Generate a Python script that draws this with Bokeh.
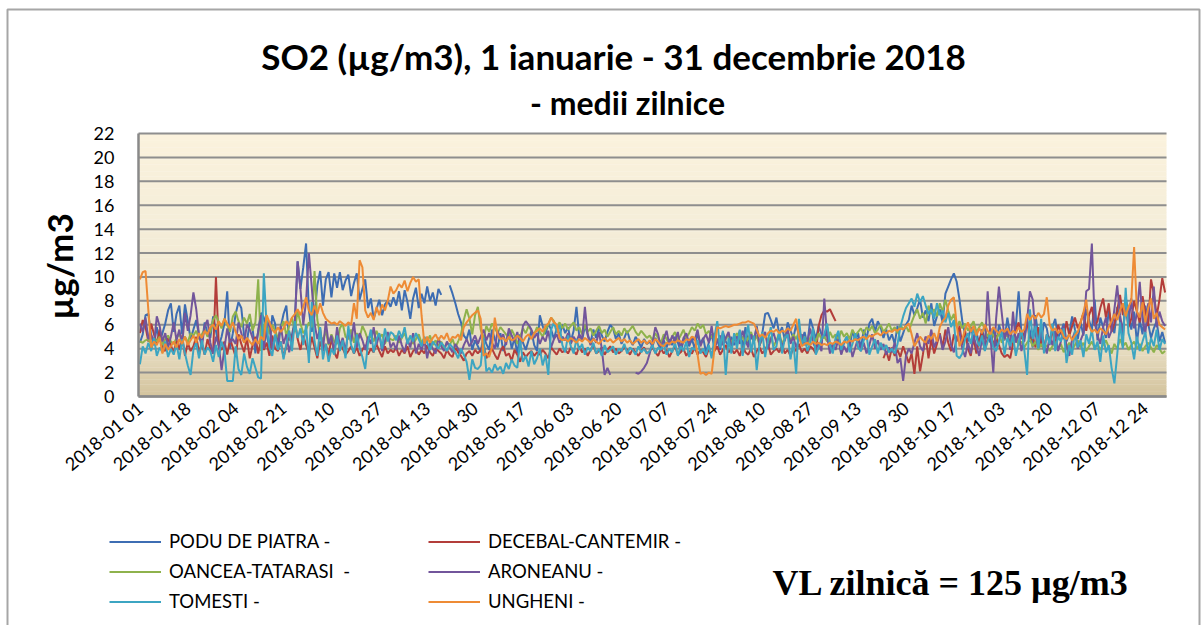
import math
from bokeh.plotting import figure
from bokeh.models import Range1d, FixedTicker, Label, Legend, LegendItem
from bokeh.embed import file_html
from bokeh.resources import INLINE

FONT = "Lato"

TITLE_1 = "SO2 (µg/m3), 1 ianuarie - 31 decembrie 2018"
TITLE_2 = "- medii zilnice"
Y_LABEL = "µg/m3"
VL_TEXT = "VL zilnică = 125 µg/m3"

TICK_STEP = 17
TICK_LABELS = ["2018-01 01", "2018-01 18", "2018-02 04", "2018-02 21", "2018-03 10",
               "2018-03 27", "2018-04 13", "2018-04 30", "2018-05 17", "2018-06 03",
               "2018-06 20", "2018-07 07", "2018-07 24", "2018-08 10", "2018-08 27",
               "2018-09 13", "2018-09 30", "2018-10 17", "2018-11 03", "2018-11 20",
               "2018-12 07", "2018-12 24"]
Y_TICKS = [0, 2, 4, 6, 8, 10, 12, 14, 16, 18, 20, 22]

NAMES = ["PODU DE PIATRA -", "DECEBAL-CANTEMIR -", "OANCEA-TATARASI  -",
         "ARONEANU -", "TOMESTI -", "UNGHENI -"]
COLORS = ["#3D6DB3", "#B33D3A", "#8EB24C", "#72559B", "#3CA5C2", "#EE8B35"]
N = None

PODU_DE_PIATRA = (
    [4.5, 5.2, 6.8, 6.9, 5.1, 4.3, 5.8, 4.6, 5.3, 6.1, 7.2, 7.8, 5.4, 6.9, 7.6, 5.2, 7.7, 6.3, 4.8, 5.6, 6.4, 5.1, 4.4, 6.2, 5.3, 4.9, 6.7, 5.5, 4.2, 5.0, 6.1]
    + [8.8, 4.0, 5.3, 6.9, 7.9, 7.4, 5.1, 4.6, 6.2, 5.7, 3.6, 5.5, 7.0, 6.6, 5.2, 4.0, 6.8, 6.1, 3.9, 5.8, 6.9, 7.6, 4.7, 5.2, 6.3, 11.3, 9.0, 10.8]
    + [12.8, 7.2, 5.4, 6.8, 9.3, 10.5, 7.6, 9.8, 10.4, 8.3, 10.3, 9.1, 10.4, 8.9, 9.7, 10.2, 8.4, 9.5, 10.3, 8.1, 9.0, 9.8, 7.4, 8.2, 6.5, 7.3, 8.1, 6.8, 7.7, 8.0, 7.5]
    + [8.3, 7.6, 8.8, 7.2, 8.9, 7.9, 6.5, 8.2, 9.1, 7.4, 8.6, 7.8, 9.2, 8.0, 8.7, 7.6, 9.0, 8.5, N, N, 9.3, 8.6, 7.8, 6.9, 6.2, 5.1, 4.8, 5.6, 3.9, 4.7]
    + [4.2, 3.7, 5.1, 4.4, 3.9, 5.6, 4.8, 4.1, 5.3, 3.8, 4.6, 5.4, 4.0, 4.9, 3.6, 5.2, 4.5, 3.9, 4.7, 5.5, 4.3, 3.8, 6.8, 5.9, 5.2, 6.1, 5.6, 4.8, 5.7, 5.1, 6.0]
    + [5.3, 5.8, 4.6, 5.5, 7.5, 5.0, 4.7, 5.9, 5.2, 4.5, 5.6, 4.9, 5.8, 5.1, 4.6, 5.4, 6.0, 5.7, 4.8, 5.3, 4.4, 4.9, 5.5, 4.7, 4.3, 5.0, 4.6, 4.1, 4.8, 4.4]
    + [4.6, 4.2, 4.9, 4.4, 3.9, 4.7, 4.1, 4.8, 4.3, 5.0, 4.5, 3.8, 4.6, 5.1, 4.2, 4.8, 4.0, 5.3, 4.4, 4.9, 3.7, 4.5, 5.2, 4.1, 4.8, 3.9, 5.4, 4.6, 4.2, 5.0, 4.3]
    + [4.7, 5.5, 4.1, 5.8, 4.4, 5.0, 4.6, 5.9, 4.2, 5.3, 6.9, 7.0, 6.4, 5.7, 6.6, 5.2, 5.8, 4.7, 6.2, 5.5, 4.9, 6.0, 5.1, 4.6, 5.4, 4.3, 6.5, 5.7, 4.8, 5.9, 5.2]
    + [4.9, 5.8, 4.4, 3.8, 4.6, 5.2, 3.6, 4.5, 5.0, 4.2, 5.5, 4.7, 5.3, 4.0, 5.6, 4.8, 6.1, 6.5, 5.4, 6.3, 5.8, 4.9, 5.6, 4.7, 5.2, 4.4, 5.9, 4.6, 5.3, 6.0]
    + [6.4, 7.6, 6.8, 7.4, 8.1, 6.6, 7.2, 6.3, 7.8, 5.9, 6.7, 7.3, 6.2, 8.6, 9.2, 9.8, 10.3, 9.6, 8.1, 6.3, 5.2, 4.6, 5.8, 4.9, 5.4, 4.4, 5.6, 4.8, 5.1, 4.5, 5.7]
    + [4.2, 6.0, 5.3, 4.7, 6.6, 5.1, 4.4, 5.9, 8.8, 5.2, 4.6, 6.3, 5.5, 4.1, 6.8, 5.0, 4.5, 6.2, 5.7, 4.3, 5.8, 6.5, 4.9, 5.4, 6.1, 4.6, 5.3, 6.7, 5.6, 4.8]
    + [6.2, 5.1, 7.3, 6.4, 5.5, 8.1, 4.7, 6.6, 5.8, 4.9, 7.2, 6.0, 5.3, 7.5, 6.3, 4.8, 8.3, 6.9, 5.6, 7.1, 4.5, 6.4, 5.2, 7.6, 6.1, 4.9, 5.7, 6.3, 4.6, 5.4, 4.5]
)

DECEBAL_CANTEMIR = (
    [5.3, 6.4, 5.8, 4.6, 6.1, 5.2, 4.4, 5.6, 4.1, 3.8, 4.9, 4.3, 3.6, 4.7, 3.9, 5.1, 3.4, 4.5, 3.8, 4.2, 5.0, 3.7, 4.4, 3.5, 4.8, 4.0, 3.6, 10.0, 4.3, 3.9, 4.6]
    + [3.5, 4.8, 4.1, 3.3, 5.2, 4.4, 3.7, 4.9, 3.2, 4.3, 5.0, 3.6, 4.7, 3.9, 4.5, 3.4, 5.1, 4.0, 3.8, 4.6, 3.3, 4.2, 5.4, 4.6, 6.3, 4.8, 3.9, 5.1]
    + [4.3, 3.6, 5.0, 4.1, 3.2, 4.6, 3.8, 4.4, 3.4, 4.9, 3.7, 3.2, 4.5, 4.0, 3.5, 3.8, 4.2, 3.6, 4.1, 3.4, 3.9, 4.3, 3.5, 4.0, 3.7, 4.4, 3.8, 3.3, 4.2, 3.6, 3.9]
    + [3.7, 4.1, 3.4, 3.9, 3.6, 4.2, 3.3, 3.8, 4.0, 3.5, 3.9, 3.6, 4.3, 3.7, 3.4, 4.0, 3.8, 3.6, 3.2, 3.9, 3.5, 3.3, 4.1, 3.7, 3.4, 3.0, 3.6, 3.8, 3.4, 3.9]
    + [3.6, 3.9, 4.4, 3.2, 3.7, 4.0, 3.5, 3.1, 3.8, 4.2, 3.4, 3.6, 3.0, 3.9, 3.5, 2.9, 3.7, 3.3, 3.6, 3.8, 3.4, 3.7, 3.5, 3.9, 3.6, 3.2, 4.1, 3.8, 3.5, 4.0, 3.7]
    + [3.9, 3.6, 4.1, 3.8, 3.5, 4.2, 3.7, 4.0, 3.4, 3.9, 4.3, 3.6, 3.8, 4.1, 3.5, 3.9, 4.2, 3.7, 4.0, 3.6, 3.8, 4.1, 3.9, 3.5, 4.0, 3.7, 3.4, 3.8, 4.1, 3.6]
    + [3.8, 4.1, 3.7, 3.4, 4.0, 3.6, 3.9, 3.3, 3.8, 4.2, 3.5, 3.7, 4.0, 3.4, 3.8, 3.6, 4.1, 3.5, 3.9, 3.7, 3.3, 4.0, 3.6, 3.8, 4.2, 3.5, 3.9, 4.3, 3.7, 4.0, 3.6]
    + [3.9, 3.4, 4.2, 3.7, 3.5, 4.0, 3.3, 3.8, 4.1, 3.6, 3.9, 4.4, 3.5, 3.8, 4.0, 3.7, 4.3, 3.6, 3.9, 3.4, 4.1, 3.8, 4.4, 3.7, 4.0, 3.6, 4.2, 4.0, 3.6, 5.9, 6.8]
    + [7.2, 7.1, 7.3, 6.8, 6.3, N, N, N, N, N, N, N, N, N, N, N, N, N, N, N, N, 3.2, 3.8, 3.0, 4.1, 3.4, 3.9, 3.3, 4.2, 3.5]
    + [2.8, 3.6, 1.9, 4.2, 2.1, 3.5, 5.0, 3.2, 4.8, 3.6, 4.4, 5.3, 4.1, 5.6, 4.5, 3.8, 5.2, 4.6, 5.9, 4.3, 5.5, 4.0, 3.4, 4.9, 3.6, 4.7, 5.4, 3.9, 4.8, 5.7, 4.2]
    + [5.1, 4.3, 3.6, 3.3, 3.5, 3.2, 4.4, 5.6, 6.2, 4.8, 5.3, 6.4, 4.6, 5.0, 4.1, 5.8, 4.4, 3.9, 5.2, 4.7, 5.5, 4.2, 6.0, 5.4, 4.8, 6.3, 5.1, 5.9, 6.6, 5.7]
    + [6.2, 7.0, 5.5, 6.8, 7.5, 5.9, 6.3, 7.4, 8.2, 6.6, 7.8, 5.4, 6.1, 7.2, 8.5, 6.8, 7.6, 5.8, 6.5, 8.0, 7.1, 6.2, 8.4, 7.0, 5.9, 9.8, 8.6, 6.7, 8.1, 9.9, 8.7]
)

OANCEA_TATARASI = (
    [4.6, 4.5, 4.7, 4.8, 4.4, 4.9, 4.6, 5.0, 4.3, 4.8, 5.1, 4.6, 4.4, 4.9, 5.2, 4.7, 5.0, 4.5, 5.3, 5.1, 5.5, 4.8, 5.2, 5.6, 5.0, 5.4, 6.4, 6.8, 6.2, 5.7, 6.5]
    + [6.0, 5.4, 6.7, 7.1, 6.3, 5.8, 6.6, 6.1, 6.9, 5.5, 6.2, 9.8, 3.8, 5.9, 6.4, 5.2, 6.0, 5.5, 4.8, 5.7, 6.3, 5.1, 5.9, 6.6, 5.4, 7.2, 6.1, 5.3]
    + [5.6, 6.2, 5.8, 10.5, 6.4, 5.1, 4.7, 5.5, 4.3, 5.2, 4.6, 4.4, 5.7, 6.1, 5.0, 4.8, 5.6, 4.5, 5.3, 4.9, 5.9, 5.4, 4.7, 5.1, 4.6, 5.5, 4.9, 5.2, 4.4, 5.0, 4.8]
    + [4.7, 5.1, 4.5, 4.9, 5.3, 4.6, 5.0, 4.4, 4.8, 5.2, 4.5, 4.9, 4.6, 5.1, 4.3, 4.7, 4.2, 4.6, 4.0, 4.5, 4.3, 4.8, 4.1, 4.6, 5.2, 6.4, 7.3, 6.5, 5.2, 6.8]
    + [7.5, 5.6, 4.8, 5.9, 5.4, 6.1, 5.7, 5.3, 5.8, 5.5, 5.2, 4.8, 5.6, 5.1, 4.4, 5.0, 5.7, 5.3, 5.9, 5.5, 5.2, 5.8, 5.4, 5.0, 5.6, 6.0, 6.6, 6.3, 5.8, 6.2, 5.7]
    + [6.1, 5.6, 5.9, 6.2, 5.5, 5.8, 5.2, 6.0, 5.4, 5.7, 5.1, 5.5, 5.9, 5.3, 5.6, 5.0, 5.4, 5.8, 5.2, 5.5, 5.1, 5.7, 5.3, 5.6, 5.9, 5.4, 5.1, 5.5, 5.2, 4.9]
    + [5.1, 4.7, 5.3, 4.9, 4.5, 5.2, 4.8, 4.4, 5.0, 5.4, 4.7, 5.1, 5.6, 4.9, 5.3, 5.8, 5.5, 6.1, 5.7, 6.0, 5.2, 5.5, 4.9, 5.3, 4.6, 5.0, 4.4, 4.8, 5.2, 4.5, 4.9]
    + [5.3, 4.7, 5.0, 4.4, 4.9, 5.4, 4.6, 5.1, 4.3, 4.8, 5.2, 4.5, 5.0, 4.2, 4.7, 5.3, 4.4, 4.9, 5.5, 4.6, 5.2, 4.8, 5.4, 4.5, 5.0, 4.3, 4.9, 5.1, 4.6, 5.3, 4.8]
    + [5.0, 4.6, 5.4, 4.9, 5.2, 4.7, 5.5, 5.0, 5.3, 4.8, 5.6, 5.1, 5.4, 5.7, 5.2, 5.8, 5.5, 5.9, 5.3, 5.6, 6.0, 5.4, 5.7, 6.1, 5.5, 5.8, 5.3, 6.0, 5.6, 5.9]
    + [5.4, 6.2, 6.8, 7.3, 6.5, 7.0, 6.1, 7.6, 6.9, 7.3, 6.7, 7.8, 7.1, 8.1, 7.2, 6.4, 6.9, 5.8, 6.3, 5.7, 6.1, 5.5, 5.9, 6.3, 5.4, 5.8, 6.2, 5.6, 5.0, 5.5, 5.1]
    + [4.8, 5.3, 4.5, 4.9, 5.2, 4.4, 4.7, 5.0, 4.3, 4.6, 4.1, 4.5, 4.8, 4.2, 4.6, 3.9, 4.4, 4.0, 4.3, 3.8, 4.2, 4.6, 4.0, 4.4, 3.7, 4.1, 4.5, 3.9, 4.3, 4.7]
    + [4.1, 4.5, 3.8, 4.2, 4.6, 4.0, 4.4, 3.9, 4.3, 4.7, 4.1, 3.6, 4.4, 4.0, 4.8, 4.2, 4.5, 3.9, 4.3, 4.6, 4.0, 4.4, 3.8, 4.2, 4.5, 4.1, 3.7, 4.3, 4.0, 3.6, 3.8]
)

ARONEANU = (
    [6.1, 5.4, 6.6, 4.8, 5.2, 4.4, 6.7, 5.9, 4.6, 5.3, 4.1, 5.0, 6.2, 4.7, 5.6, 4.3, 7.0, 5.5, 6.8, 8.7, 7.3, 5.1, 4.2, 5.9, 6.4, 4.5, 3.6, 5.0, 4.3, 2.2, 4.0]
    + [5.7, 4.5, 4.8, 4.4, 6.2, 5.3, 4.5, 6.0, 5.6, 4.9, 4.2, 5.4, 6.8, 4.0, 5.7, 6.3, 3.9, 5.1, 4.6, 5.9, 4.4, 5.2, 3.7, 4.8, 6.1, 11.3, 9.0, 6.0]
    + [8.0, 12.0, 9.2, 6.1, 4.8, 5.7, 3.9, 6.3, 4.4, 5.1, 3.6, 5.8, 4.2, 4.9, 3.8, 5.5, 4.6, 6.2, 4.1, 5.3, 4.7, 3.9, 5.0, 4.4, 5.8, 4.3, 5.2, 3.8, 4.6, 5.4, 4.1]
    + [4.5, 3.9, 5.1, 4.3, 3.7, 4.8, 4.1, 5.3, 3.6, 4.4, 3.9, 4.7, 3.2, 4.5, 4.0, 3.6, 4.9, 4.2, 3.8, 4.6, 4.1, 3.7, 4.4, 4.0, 3.6, 4.3, 4.8, 4.2, 4.6, 5.1]
    + [4.4, 5.0, 5.6, 4.7, 5.3, 4.5, 4.0, 5.5, 4.8, 5.2, 4.3, 5.7, 5.1, 4.6, 5.4, 4.2, 5.9, 6.3, 6.0, 5.6, 4.9, 5.3, 4.4, 5.0, 4.6, 5.5, 4.1, 4.8, 5.2, 4.5, 5.0]
    + [4.7, 5.3, 4.4, 5.0, 4.6, 5.2, 4.8, 7.5, 5.1, 4.3, 4.9, 4.5, 5.4, 4.0, 1.8, 2.4, 1.8, N, N, N, N, N, N, N, N, 2.0, 1.9, 2.1, 2.4, 2.8]
    + [3.6, 4.5, 5.8, 5.2, 4.1, 4.8, 5.5, 4.3, 5.1, 4.6, 5.4, 4.0, 4.9, 5.3, 4.4, 5.0, 4.7, 5.6, 4.2, 4.8, 5.2, 4.5, 5.9, 4.1, 4.6, 5.1, 4.3, 4.9, 5.4, 4.2, 4.7]
    + [5.0, 4.4, 5.5, 4.7, 4.1, 5.2, 4.6, 5.8, 4.3, 4.9, 5.4, 4.0, 4.8, 5.3, 4.5, 5.1, 4.2, 4.7, 5.6, 4.4, 5.0, 4.1, 4.8, 5.2, 4.3, 4.6, 5.7, 4.5, 4.0, 4.4, 3.8]
    + [8.2, 5.0, 3.6, 4.4, 3.9, 4.8, 3.5, 4.2, 3.7, 4.6, 3.3, 4.1, 4.9, 3.8, 4.5, 3.6, 4.3, 5.2, 4.0, 4.7, 3.9, 4.4, 3.5, 4.1, 3.7, 4.5, 2.8, 3.2, 1.3, 3.4]
    + [4.0, 3.6, 4.5, 5.3, 4.2, 3.8, 5.0, 4.4, 5.6, 4.1, 4.7, 5.2, 3.9, 4.6, 5.8, 4.3, 3.7, 4.9, 5.4, 4.0, 3.3, 4.5, 3.6, 5.1, 4.2, 3.4, 4.8, 3.9, 8.8, 5.0, 2.0]
    + [6.5, 9.2, 7.0, 4.8, 5.6, 3.9, 7.1, 4.5, 5.3, 3.8, 4.9, 6.4, 8.8, 8.1, 5.2, 4.1, 5.7, 4.4, 3.6, 5.0, 4.3, 5.5, 3.8, 4.6, 5.9, 4.2, 3.4, 4.8, 5.4, 4.0]
    + [4.7, 5.3, 8.8, 9.0, 12.8, 6.2, 5.1, 4.4, 5.8, 6.6, 4.9, 5.5, 7.3, 9.3, 6.8, 5.4, 7.7, 6.1, 8.2, 5.7, 7.0, 9.6, 6.4, 5.3, 7.8, 6.2, 9.2, 5.8, 7.1, 6.3, 5.9]
)

TOMESTI = (
    [2.7, 4.2, 3.6, 4.5, 3.8, 4.9, 3.4, 4.1, 3.7, 4.6, 3.3, 4.0, 3.5, 4.4, 3.1, 4.8, 3.6, 2.6, 1.8, 3.9, 4.5, 3.2, 4.7, 3.5, 4.1, 3.8, 2.9, 4.3, 3.3, 4.6, 3.9]
    + [1.3, 1.3, 1.3, 4.2, 2.3, 1.8, 3.6, 2.5, 1.9, 3.2, 2.4, 1.6, 1.5, 10.3, 5.8, 4.1, 3.4, 5.2, 3.9, 4.6, 3.1, 4.4, 5.5, 3.8, 6.3, 4.9, 5.7, 4.3]
    + [6.0, 2.8, 7.9, 4.6, 3.4, 5.8, 3.1, 4.4, 2.9, 4.0, 3.5, 5.1, 3.8, 4.7, 3.2, 5.9, 4.3, 3.6, 5.2, 4.1, 3.3, 2.3, 4.5, 5.6, 3.7, 4.8, 5.3, 4.0, 5.7, 4.6, 5.4]
    + [5.2, 4.7, 5.5, 4.9, 5.8, 4.4, 5.1, 4.6, 5.3, 4.8, 4.2, 5.0, 4.5, 3.9, 4.6, 4.3, 4.0, 4.5, 4.2, 3.8, 4.4, 4.1, 3.7, 3.2, 4.0, 3.5, 2.9, 1.4, 3.1, 2.4]
    + [2.3, 2.6, 4.9, 2.1, 2.4, 2.0, 2.7, 2.2, 2.5, 1.9, 2.8, 2.3, 3.1, 2.6, 2.4, 4.7, 2.9, 3.4, 2.5, 3.8, 2.7, 3.2, 4.0, 2.6, 3.5, 1.8, 5.6, 6.2, 5.4, 6.0, 4.3]
    + [3.7, 5.1, 4.2, 3.6, 4.8, 3.9, 4.4, 3.5, 4.1, 3.8, 4.5, 3.6, 4.0, 3.4, 4.3, 3.7, 3.9, 4.2, 3.5, 4.0, 3.8, 4.4, 3.6, 4.1, 3.9, 3.5, 4.2, 3.7, 4.0, 3.6]
    + [3.8, 4.3, 3.6, 4.1, 3.9, 4.4, 3.5, 4.0, 3.7, 4.5, 3.4, 4.2, 3.8, 4.6, 3.3, 4.1, 3.9, 4.7, 3.6, 4.0, 3.5, 4.3, 3.2, 5.0, 6.3, 4.1, 5.5, 1.8, 4.9, 3.6, 5.3]
    + [4.0, 5.6, 3.4, 4.8, 6.0, 3.7, 5.1, 2.2, 4.4, 5.4, 3.3, 4.7, 5.8, 3.9, 4.2, 5.5, 3.6, 4.9, 5.2, 3.1, 4.6, 1.9, 6.5, 4.3, 5.0, 3.8, 4.5, 5.7, 3.5, 4.1, 4.8]
    + [5.2, 6.1, 4.3, 3.6, 4.9, 5.5, 3.9, 4.6, 5.0, 3.7, 4.4, 5.3, 4.1, 3.8, 4.7, 5.1, 3.5, 4.2, 4.8, 3.6, 4.5, 3.9, 4.3, 3.7, 4.0, 3.6, 4.4, 5.8, 6.7, 7.4]
    + [7.8, 8.2, 7.5, 8.6, 7.9, 8.4, 7.6, 6.9, 7.3, 6.5, 7.8, 6.8, 7.2, 6.2, 7.0, 5.8, 6.4, 3.4, 3.2, 3.6, 4.8, 5.3, 4.4, 5.7, 4.9, 4.2, 5.1, 3.8, 4.6, 5.4, 4.1]
    + [3.8, 4.6, 5.4, 3.5, 4.9, 4.2, 5.1, 3.4, 4.5, 5.6, 3.9, 1.8, 7.3, 4.8, 5.9, 4.0, 6.5, 3.6, 5.2, 4.4, 6.1, 3.8, 5.0, 4.6, 5.7, 2.8, 4.3, 3.5, 5.5, 4.1]
    + [4.7, 3.3, 5.2, 4.4, 5.6, 3.9, 4.6, 2.9, 5.1, 3.7, 4.3, 2.4, 1.1, 3.5, 6.2, 4.0, 9.1, 5.3, 4.5, 3.1, 5.0, 3.8, 4.6, 5.4, 3.6, 4.9, 4.2, 5.6, 3.9, 4.8, 4.4]
)

UNGHENI = (
    [9.8, 10.4, 10.5, 7.2, 4.1, 4.6, 4.3, 4.9, 3.6, 4.4, 3.9, 4.2, 4.6, 4.1, 4.8, 4.4, 5.0, 4.3, 4.7, 5.1, 4.5, 5.3, 4.9, 5.5, 5.2, 5.8, 6.0, 5.6, 6.3, 5.9, 6.5]
    + [6.1, 5.7, 6.2, 5.4, 4.8, 5.1, 4.5, 4.9, 4.6, 4.3, 4.8, 4.4, 5.0, 4.7, 6.8, 6.2, 5.6, 5.3, 5.8, 5.4, 5.7, 6.3, 6.0, 6.6, 6.9, 7.3, 6.8, 7.5]
    + [8.3, 7.2, 6.8, 7.6, 6.9, 7.8, 7.0, 6.5, 6.3, 6.1, 6.2, 6.0, 6.3, 6.1, 5.9, 6.2, 6.0, 7.8, 6.5, 11.4, 10.8, 7.2, 6.6, 7.0, 6.4, 7.5, 6.8, 7.7, 7.2, 8.0, 9.2]
    + [8.6, 8.9, 9.4, 9.1, 9.7, 8.8, 9.5, 10.0, 9.6, 9.8, 6.8, 4.4, 5.0, 4.5, 4.9, 5.2, 4.7, 5.1, 4.8, 5.3, 4.6, 5.0, 4.9, 5.2, 4.7, 5.8, 6.2, 6.5, 6.8, 7.0]
    + [7.2, 6.5, 3.4, 3.6, 3.3, 4.1, 6.6, 5.2, 4.8, 4.9, 4.6, 5.0, 4.7, 4.8, 5.1, 4.9, 4.6, 5.0, 5.2, 4.8, 5.3, 5.5, 5.7, 5.4, 5.9, 6.1, 6.6, 6.2, 6.0, 4.9, 4.7]
    + [4.8, 4.6, 4.9, 4.7, 4.5, 4.8, 4.6, 4.9, 4.7, 4.5, 4.8, 4.6, 4.4, 4.7, 4.9, 4.6, 4.8, 4.5, 4.7, 4.9, 4.6, 4.8, 4.5, 4.7, 4.4, 4.6, 4.8, 4.5, 4.7, 4.4]
    + [4.7, 4.4, 4.8, 4.6, 4.3, 4.2, 4.5, 4.4, 4.6, 4.5, 4.7, 4.6, 4.5, 4.8, 4.7, 5.0, 4.9, 3.5, 1.9, 2.0, 1.8, 2.0, 1.9, 4.0, 5.8, 5.7, 5.8, 5.9, 5.8, 5.9, 6.0]
    + [6.0, 6.1, 6.2, 6.2, 6.3, 6.2, 6.1, 5.6, 5.0, 5.2, 4.9, 5.3, 5.5, 5.4, 5.6, 5.3, 5.5, 5.4, 5.7, 5.5, 6.0, 6.5, 5.0, 4.2, 4.4, 4.5, 4.3, 4.6, 4.4, 4.5, 4.3]
    + [4.4, 4.3, 4.5, 4.4, 4.6, 4.5, 4.3, 4.6, 4.5, 4.7, 4.6, 4.8, 4.7, 4.9, 5.0, 4.8, 5.1, 5.0, 5.2, 5.3, 5.1, 5.4, 5.3, 5.5, 5.4, 5.6, 5.5, 5.7, 5.6, 5.9]
    + [6.1, 5.2, 4.2, 4.6, 5.0, 4.7, 4.5, 5.1, 4.8, 5.3, 4.6, 5.8, 6.3, 6.6, 7.6, 8.1, 8.3, 6.0, 4.2, 4.8, 5.6, 6.2, 5.4, 5.9, 5.1, 5.7, 5.3, 6.0, 5.5, 5.2, 5.8]
    + [5.5, 5.3, 5.6, 5.4, 5.7, 5.2, 5.5, 5.3, 5.8, 5.4, 5.6, 6.9, 6.4, 6.8, 6.5, 7.0, 6.6, 6.9, 8.3, 6.0, 5.5, 5.7, 5.3, 5.6, 5.0, 4.8, 5.2, 4.7, 5.1, 5.4]
    + [6.2, 7.0, 8.1, 5.9, 5.4, 5.6, 5.3, 5.7, 5.5, 5.2, 5.8, 6.3, 6.9, 6.4, 7.2, 7.8, 6.7, 7.5, 8.0, 12.5, 7.1, 6.6, 7.9, 6.2, 7.4, 8.2, 6.5, 7.0, 6.0, 5.8, 5.6]
)

SERIES = [PODU_DE_PIATRA, DECEBAL_CANTEMIR, OANCEA_TATARASI, ARONEANU, TOMESTI, UNGHENI]
N_DAYS = 365
DAYS = list(range(N_DAYS))


def fit(vals):
    vals = list(vals)[:N_DAYS]
    return vals + [None] * (N_DAYS - len(vals))


def nan(vals):
    return [float("nan") if v is None else v for v in vals]


# ---- layout: the frame covers the whole canvas; the plot area is placed by the ranges
W, H = 1204, 625
PA_LEFT, PA_RIGHT, PA_TOP, PA_BOTTOM = 138, 1166, 133, 396   # plot-area pixels
X_MIN, X_MAX = -0.5, N_DAYS - 0.5
Y_MIN, Y_MAX = 0, 22
KX = (PA_RIGHT - PA_LEFT) / (X_MAX - X_MIN)
KY = (PA_BOTTOM - PA_TOP) / (Y_MAX - Y_MIN)
x_range = Range1d(X_MIN - PA_LEFT / KX, X_MAX + (W - PA_RIGHT) / KX)
y_range = Range1d(Y_MIN - (H - PA_BOTTOM) / KY, Y_MAX + PA_TOP / KY)


def px(xpix):
    return x_range.start + xpix / KX


def py(ypix):
    return y_range.end - ypix / KY


p = figure(width=W, height=H, output_backend="svg", toolbar_location=None,
           x_range=x_range, y_range=y_range,
           min_border_left=0, min_border_right=0, min_border_top=0, min_border_bottom=0,
           border_fill_color="white", background_fill_color="white",
           outline_line_color=None)
p.xgrid.visible = False
p.ygrid.visible = False

# outer chart border
p.quad(left=[px(7)], right=[px(1199)], top=[py(9)], bottom=[py(640)],
       fill_color=None, line_color="#A6A6A6", line_width=2, level="image")

# plot-area gradient (style only)
stops = [(0.0, (211, 195, 157)), (2.0, (221, 208, 175)), (4.0, (231, 221, 194)),
         (8.0, (239, 231, 209)), (14.0, (244, 237, 216)), (22.0, (251, 242, 221))]


def grad(v):
    for (a, ca), (b, cb) in zip(stops[:-1], stops[1:]):
        if a <= v <= b:
            t = (v - a) / (b - a)
            return "#%02x%02x%02x" % tuple(int(round(ca[i] + (cb[i] - ca[i]) * t)) for i in range(3))
    return "#%02x%02x%02x" % stops[-1][1]


nb = 110
step = (Y_MAX - Y_MIN) / nb
p.quad(left=[X_MIN] * nb, right=[X_MAX] * nb,
       bottom=[Y_MIN + i * step for i in range(nb)],
       top=[min(Y_MAX, Y_MIN + (i + 1) * step + 0.03) for i in range(nb)],
       fill_color=[grad(Y_MIN + (i + 0.5) * step) for i in range(nb)],
       line_color=None, level="image")

# horizontal gridlines at the y ticks
p.segment(x0=[X_MIN] * len(Y_TICKS), x1=[X_MAX] * len(Y_TICKS), y0=Y_TICKS, y1=Y_TICKS,
          line_color="#8E8E8E", line_width=2, level="underlay")

# axes drawn at fixed locations on the plot area
p.yaxis.fixed_location = X_MIN
p.yaxis.bounds = (Y_MIN, Y_MAX)
p.yaxis.ticker = FixedTicker(ticks=Y_TICKS)
p.yaxis.major_label_text_font = FONT
p.yaxis.major_label_text_font_size = "18px"
p.yaxis.major_label_text_color = "#000000"
p.yaxis.major_tick_line_color = None
p.yaxis.minor_tick_line_color = None
p.yaxis.major_label_standoff = 18
p.yaxis.axis_line_color = "#898989"
p.yaxis.axis_line_width = 2.5

x_ticks = [i * TICK_STEP for i in range(len(TICK_LABELS))]
p.xaxis.fixed_location = Y_MIN
p.xaxis.bounds = (X_MIN, X_MAX)
p.xaxis.ticker = FixedTicker(ticks=x_ticks)
p.xaxis.major_label_overrides = {t: lab for t, lab in zip(x_ticks, TICK_LABELS)}
p.xaxis.major_label_orientation = math.radians(40)
p.xaxis.major_label_text_font = FONT
p.xaxis.major_label_text_font_size = "18px"
p.xaxis.major_label_text_color = "#000000"
p.xaxis.major_tick_line_color = None
p.xaxis.minor_tick_line_color = None
p.xaxis.major_label_standoff = 3
p.xaxis.axis_line_color = "#898989"
p.xaxis.axis_line_width = 2.5

renderers = []
for vals, col in zip(SERIES, COLORS):
    r = p.line(DAYS, nan(fit(vals)), line_color=col, line_width=2)
    renderers.append(r)

leg_style = dict(border_line_color=None, background_fill_alpha=0, label_text_font=FONT,
                 label_text_font_size="18.5px", label_text_color="#000000",
                 glyph_width=52, glyph_height=19, label_height=19, label_standoff=8,
                 spacing=8, padding=0, margin=0)
LEG_BOTTOM = H - 612
leg_left = Legend(items=[LegendItem(label=NAMES[i], renderers=[renderers[i]]) for i in (0, 2, 4)],
                  location=(109, LEG_BOTTOM), **leg_style)
leg_right = Legend(items=[LegendItem(label=NAMES[i], renderers=[renderers[i]]) for i in (1, 3, 5)],
                   location=(428, LEG_BOTTOM), **leg_style)
p.add_layout(leg_left)
p.add_layout(leg_right)

txt = dict(text_font=FONT, text_font_style="bold", text_color="#000000",
           text_align="center", text_baseline="middle")
p.add_layout(Label(x=px(613), y=py(55), text=TITLE_1, text_font_size="35px", **txt))
p.add_layout(Label(x=px(627), y=py(102), text=TITLE_2, text_font_size="32px", **txt))
p.add_layout(Label(x=px(58), y=py(266), text=Y_LABEL, angle=math.pi / 2,
                   text_font_size="35px", **txt))
p.add_layout(Label(x=px(772), y=py(582), text=VL_TEXT, text_align="left",
                   text_baseline="middle", text_font="Liberation Serif",
                   text_font_style="bold", text_font_size="36px", text_color="#000000"))

open("out.html", "w").write(file_html(p, INLINE))
